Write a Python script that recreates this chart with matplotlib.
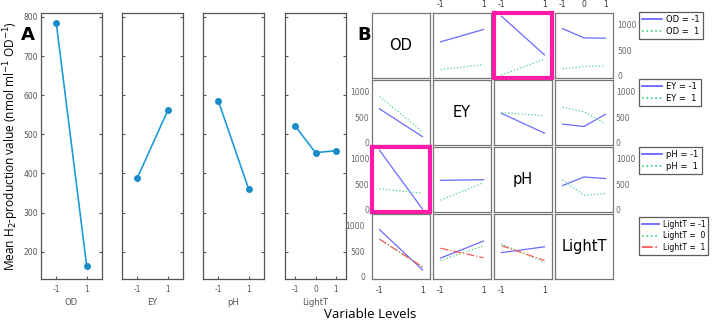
import matplotlib
matplotlib.use('Agg')
import matplotlib.pyplot as plt
from matplotlib.lines import Line2D
import numpy as np

# main effects (panel A)
factors = ['OD', 'EY', 'pH', 'LightT']
levels = [[-1, 1], [-1, 1], [-1, 1], [-1, 0, 1]]
od_main = [785, 162]
ey_main = [388, 561]
ph_main = [586, 359]
light_main = [521, 453, 458]

# interaction means (panel B): rows = levels of first factor, cols = levels of second
od_ey = [[662, 906], [114, 214]]
od_ph = [[1166, 405], [8, 322]]
od_light = [[922, 740, 734], [130, 178, 190]]
ey_ph = [[573, 183], [586, 527]]
ey_light = [[362, 314, 556], [696, 605, 368]]
ph_light = [[470, 640, 608], [584, 278, 315]]

legend_labels = [['OD = -1', 'OD =  1'], ['EY = -1', 'EY =  1'],
                 ['pH = -1', 'pH =  1'], ['LightT = -1', 'LightT =  0', 'LightT =  1']]
highlight = [(0, 2), (2, 0)]

W, H = 716, 323
plt.rcParams['font.family'] = ['DejaVu Sans']
plt.rcParams['axes.unicode_minus'] = False
fig = plt.figure(figsize=(W / 100, H / 100), dpi=100)

def box(x0, y0, w, h):
    return [x0 / W, 1 - (y0 + h) / H, w / W, h / H]

# ---- panel A
mains = [od_main, ey_main, ph_main, light_main]
a_left = [41, 122, 203, 285]
for k in range(4):
    ax = fig.add_axes(box(a_left[k], 13, 61, 266))
    ax.plot(levels[k], mains[k], '-o', color='#1e9bd7', lw=1.2, ms=4,
            mfc='#1a8cc8', mec='#1a8cc8')
    ax.set_ylim(130, 810)
    ax.set_yticks(range(200, 801, 100))
    if k < 3:
        ax.set_xlim(-2, 2)
    else:
        ax.set_xlim(-1.5, 1.5)
    ax.set_xticks(levels[k])
    ax.set_xticklabels([str(v) for v in levels[k]])
    ax.tick_params(direction='in', length=2.5, right=True, top=False,
                   labelsize=5.5, colors='#555555', pad=2)
    ax.tick_params(axis='x', pad=4)
    if k > 0:
        ax.set_yticklabels([])
    ax.set_xlabel(factors[k], fontsize=6, color='#555555', labelpad=3)
    for s in ax.spines.values():
        s.set_color('#555555')
        s.set_linewidth(0.9)

fig.text(11 / W, 1 - 146 / H, 'Mean H$_2$-production value (nmol ml$^{-1}$ OD$^{-1}$)',
         rotation=90, ha='center', va='center', fontsize=8.6, family='Open Sans')
fig.text(28 / W, 1 - 35 / H, 'A', fontsize=13, fontweight='bold', ha='center', va='center')
fig.text(370 / W, 1 - 314 / H, 'Variable Levels', fontsize=9.5, ha='center', va='center',
         family='Open Sans')

# ---- panel B
pairs = {(0, 1): od_ey, (0, 2): od_ph, (0, 3): od_light,
         (1, 2): ey_ph, (1, 3): ey_light, (2, 3): ph_light}
styles = [dict(color='#5a5aff', ls='-'), dict(color='#3ccf7a', ls=':'),
          dict(color='#ff4a4a', ls='-.')]
col_left = [372, 433, 494, 555]
row_top = [13, 80, 147, 214]
fig.text(364 / W, 1 - 35 / H, 'B', fontsize=13, fontweight='bold', ha='center', va='center')

for i in range(4):
    for j in range(4):
        ax = fig.add_axes(box(col_left[j], row_top[i], 58, 65))
        ax.set_xlim(-1.35, 1.35)
        ax.set_ylim(-50, 1230)
        ax.set_xticks(levels[j])
        ax.set_yticks([0, 500, 1000])
        ax.tick_params(length=0, labelsize=5.5, pad=2)
        ax.tick_params(axis='y', colors='#666666')
        ax.tick_params(axis='x', colors='#333333')
        ax.tick_params(labelleft=False, labelbottom=False)
        for s in ax.spines.values():
            s.set_color('#777777')
            s.set_linewidth(0.9)
        if i == j:
            ax.text(0, 590, factors[i], fontsize=10.5, ha='center', va='center')
        else:
            if i < j:
                m = np.array(pairs[(i, j)])
            else:
                m = np.array(pairs[(j, i)]).T
            for g in range(m.shape[0]):
                ax.plot(levels[j], m[g], lw=0.9, alpha=0.9, **styles[g])
        if i == 0 and j > 0:
            ax.tick_params(labeltop=True, pad=3)
        if i == 3 and j < 3:
            ax.tick_params(labelbottom=True, pad=5)
        if j == 0 and i > 0:
            ax.tick_params(labelleft=True)
        if j == 3 and i < 3:
            ax.tick_params(labelright=True)
        if (i, j) in highlight:
            for s in ax.spines.values():
                s.set_color('#ff1aa8')
                s.set_linewidth(3)
                s.set_zorder(5)

# legends
leg_top = [12, 79, 147, 217]
for i in range(4):
    handles = [Line2D([], [], lw=1.2, **styles[g]) for g in range(len(levels[i]))]
    lg = fig.legend(handles, legend_labels[i], loc='upper left',
                    bbox_to_anchor=(639 / W, 1 - leg_top[i] / H),
                    fontsize=6 if i < 3 else 5.5,
                    frameon=True, fancybox=False, edgecolor='#333333',
                    handlelength=2.4 if i < 3 else 2.2, handletextpad=0.5,
                    borderpad=0.4, labelspacing=0.3, borderaxespad=0)
    lg.get_frame().set_linewidth(0.9)

fig.savefig('out.png', dpi=100)
